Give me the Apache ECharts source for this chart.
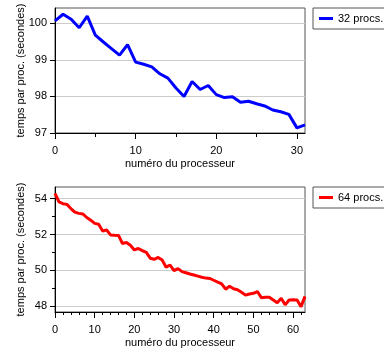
<!DOCTYPE html>
<html>
<head>
<meta charset="utf-8">
<script src="https://cdn.jsdelivr.net/npm/echarts@6/dist/echarts.min.js"></script>
<style>
html, body { margin: 0; padding: 0; background: #fff; }
#chart { width: 384px; height: 351px; }
</style>
</head>
<body>
<div id="chart"></div>
<script>
// 32 processeurs
const procs32 = [0, 1, 2, 3, 4, 5, 6, 7, 8, 9, 10, 11, 12, 13, 14, 15, 16, 17, 18, 19, 20, 21, 22, 23, 24, 25, 26, 27, 28, 29, 30, 31];
const temps32 = [100.07, 100.25, 100.11, 99.88, 100.2, 99.68, 99.49, 99.31, 99.13, 99.42, 98.94, 98.88, 98.81, 98.62, 98.5, 98.23,
    98.0, 98.41, 98.19, 98.3, 98.05, 97.97, 97.99, 97.84, 97.87, 97.8, 97.74, 97.63, 97.58, 97.51, 97.14, 97.22];
// 64 processeurs
const procs64 = [0, 1, 2, 3, 4, 5, 6, 7, 8, 9, 10, 11, 12, 13, 14, 15, 16, 17, 18, 19, 20, 21, 22, 23, 24, 25, 26, 27, 28, 29, 30, 31,
    32, 33, 34, 35, 36, 37, 38, 39, 40, 41, 42, 43, 44, 45, 46, 47, 48, 49, 50, 51, 52, 53, 54, 55, 56, 57, 58, 59, 60, 61, 62, 63];
const temps64 = [54.3, 53.82, 53.72, 53.68, 53.45, 53.25, 53.18, 53.15, 52.95, 52.8, 52.62, 52.57, 52.2, 52.25, 51.98, 51.96,
    51.95, 51.5, 51.56, 51.4, 51.14, 51.22, 51.1, 51.0, 50.68, 50.62, 50.72, 50.58, 50.18, 50.3, 49.99, 50.1,
    49.93, 49.87, 49.8, 49.74, 49.68, 49.62, 49.57, 49.55, 49.45, 49.35, 49.25, 48.95, 49.12, 48.98, 48.92, 48.78,
    48.62, 48.68, 48.72, 48.82, 48.48, 48.5, 48.5, 48.35, 48.2, 48.45, 48.08, 48.35, 48.36, 48.35, 47.98, 48.55];

const xTicks32 = [0, 10, 20, 30];
const xMinor32 = [5, 15, 25];
const yTicks32 = [97, 98, 99, 100];
const xTicks64 = [0, 10, 20, 30, 40, 50, 60];
const xMinor64 = [2, 4, 6, 8, 12, 14, 16, 18, 22, 24, 26, 28, 32, 34, 36, 38, 42, 44, 46, 48, 52, 54, 56, 58, 62];
const yTicks64 = [48, 50, 52, 54];
const yMinor64 = [49, 51, 53];

const font = "'Liberation Sans', Arial, sans-serif";
const xName = 'numéro du processeur';
const yName = 'temps par proc. (secondes)';

function mainX(grid, max, ticks) {
    return {
        type: 'value', gridIndex: grid, min: 0, max: max,
        name: xName, nameLocation: 'middle', nameGap: 25, nameMoveOverlap: false,
        nameTextStyle: { fontFamily: font, fontSize: 11, color: '#000' },
        axisLine: { show: true, lineStyle: { color: '#000', width: 1 } },
        axisTick: { show: true, inside: false, length: 6, customValues: ticks, lineStyle: { color: '#000' } },
        axisLabel: { customValues: ticks, margin: 12, fontFamily: font, fontSize: 11, color: '#000' },
        splitLine: { show: false }
    };
}
function minorX(grid, max, ticks, len) {
    return {
        type: 'value', gridIndex: grid, min: 0, max: max, position: 'bottom',
        axisLine: { show: false },
        axisTick: { show: true, length: len, customValues: ticks, lineStyle: { color: '#000' } },
        axisLabel: { show: false },
        splitLine: { show: false }
    };
}

const option = {
    animation: false,
    grid: [
        { left: 55, top: 8, width: 250, height: 125, show: true, borderColor: '#555', borderWidth: 1 },
        { left: 55, top: 187, width: 250, height: 125, show: true, borderColor: '#555', borderWidth: 1 }
    ],
    legend: [
        {
            data: ['32 procs.'], left: 313, top: 8, orient: 'vertical',
            borderColor: '#555', borderWidth: 1, padding: [5, 10, 5, 6],
            itemWidth: 14, itemHeight: 3, icon: 'rect',
            textStyle: { fontFamily: font, fontSize: 11, color: '#000' }
        },
        {
            data: ['64 procs.'], left: 313, top: 187, orient: 'vertical',
            borderColor: '#555', borderWidth: 1, padding: [5, 10, 5, 6],
            itemWidth: 14, itemHeight: 3, icon: 'rect',
            textStyle: { fontFamily: font, fontSize: 11, color: '#000' }
        }
    ],
    xAxis: [
        mainX(0, 31, xTicks32),
        minorX(0, 31, xMinor32, 4),
        mainX(1, 63, xTicks64),
        minorX(1, 63, xMinor64, 3)
    ],
    yAxis: [
        {
            type: 'value', gridIndex: 0, min: 97, max: 100.42, interval: 1,
            name: yName, nameLocation: 'middle', nameGap: 29, nameMoveOverlap: false,
            nameTextStyle: { fontFamily: font, fontSize: 11, color: '#000' },
            axisLine: { show: true, lineStyle: { color: '#000' } },
            axisTick: { show: true, length: 5, customValues: yTicks32, lineStyle: { color: '#000' } },
            axisLabel: { customValues: yTicks32, margin: 8, fontFamily: font, fontSize: 11, color: '#000' },
            splitLine: { show: true, lineStyle: { color: '#ccc', width: 1 } }
        },
        {
            type: 'value', gridIndex: 1, min: 47.68, max: 54.65, minInterval: 1, maxInterval: 1, splitNumber: 7,
            name: yName, nameLocation: 'middle', nameGap: 29, nameMoveOverlap: false,
            nameTextStyle: { fontFamily: font, fontSize: 11, color: '#000' },
            axisLine: { show: true, lineStyle: { color: '#000' } },
            axisTick: { show: true, length: 5, customValues: yTicks64, lineStyle: { color: '#000' } },
            axisLabel: { customValues: yTicks64, margin: 8, fontFamily: font, fontSize: 11, color: '#000' },
            splitLine: { show: true, lineStyle: { color: '#ccc', width: 1 } }
        },
        {
            type: 'value', gridIndex: 1, min: 47.68, max: 54.65, position: 'left',
            axisLine: { show: false },
            axisTick: { show: true, length: 3, customValues: yMinor64, lineStyle: { color: '#000' } },
            axisLabel: { show: false },
            splitLine: { show: false }
        }
    ],
    series: [
        {
            name: '32 procs.', type: 'line', xAxisIndex: 0, yAxisIndex: 0,
            data: procs32.map((p, i) => [p, temps32[i]]),
            showSymbol: false, symbol: 'none',
            lineStyle: { color: '#0000ff', width: 3 },
            itemStyle: { color: '#0000ff' }
        },
        {
            name: '64 procs.', type: 'line', xAxisIndex: 2, yAxisIndex: 1,
            data: procs64.map((p, i) => [p, temps64[i]]),
            showSymbol: false, symbol: 'none',
            lineStyle: { color: '#ff0000', width: 3 },
            itemStyle: { color: '#ff0000' }
        }
    ]
};

const myChart = echarts.init(document.getElementById('chart'));
myChart.setOption(option);
</script>
</body>
</html>
